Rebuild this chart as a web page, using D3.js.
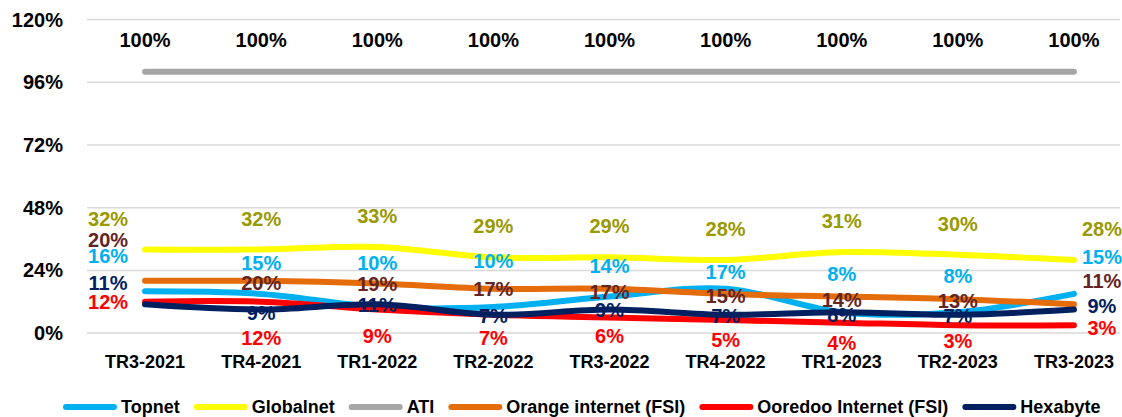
<!DOCTYPE html>
<html>
<head>
<meta charset="utf-8">
<script src="https://cdn.jsdelivr.net/npm/d3@7"></script>
<style>
  body { margin: 0; background: #fff; }
  svg text { font-family: "Liberation Sans", Arial, sans-serif; font-weight: bold; }
</style>
</head>
<body>
<svg id="chart"></svg>
<script>
const categories = ["TR3-2021", "TR4-2021", "TR1-2022", "TR2-2022", "TR3-2022", "TR4-2022", "TR1-2023", "TR2-2023", "TR3-2023"];
const yTicks = [0, 24, 48, 72, 96, 120];

const topnet = [16, 15, 10, 10, 14, 17, 8, 8, 15];
const globalnet = [32, 32, 33, 29, 29, 28, 31, 30, 28];
const ati = [100, 100, 100, 100, 100, 100, 100, 100, 100];
const orange = [20, 20, 19, 17, 17, 15, 14, 13, 11];
const ooredoo = [12, 12, 9, 7, 6, 5, 4, 3, 3];
const hexabyte = [11, 9, 11, 7, 9, 7, 8, 7, 9];

const w = 1122;
const h = 417;

// series styling + where excel left the data labels (baseline offset from the point)
const series = [
  {name: "Topnet", values: topnet, color: "#00B0F0", label: "#00B0F0", dy: [-28, -24, -37, -39, -24, -10, -31, -29, -30], ends: true},
  {name: "Globalnet", values: globalnet, color: "#FFFF00", label: "#999900", dy: [-24, -24, -24, -24, -24, -24, -24, -24, -24], ends: true},
  {name: "ATI", values: ati, color: "#A6A6A6", label: "#000000", dy: [-25, -25, -25, -25, -25, -25, -25, -25, -25], ends: false},
  {name: "Orange internet (FSI)", values: orange, color: "#E46C0A", label: "#632523", dy: [-34, 9, 8, 7, 10, 9, 10, 9, -16], ends: true},
  {name: "Ooredoo Internet (FSI)", values: ooredoo, color: "#FF0000", label: "#FF0000", dy: [7, 43, 33, 30, 26, 27, 27, 23, 10], ends: true},
  {name: "Hexabyte", values: hexabyte, color: "#002060", label: "#002060", dy: [-14, 10, 8, 8, 7, 8, 10, 8, 3], ends: true}
];

const svg = d3.select("#chart").attr("width", w).attr("height", h);

const x = d3.scaleBand().domain(categories).range([87, 1132]);
const cx = c => x(c) + x.bandwidth() / 2;
const y = d3.scaleLinear().domain([0, 120]).range([333.1, 19.6]);

//gridlines
svg.append("g").selectAll("line").data(yTicks).enter().append("line")
  .attr("x1", 87).attr("x2", 1120)
  .attr("y1", d => y(d)).attr("y2", d => y(d))
  .attr("stroke", "#D9D9D9").attr("stroke-width", 1.5);

// y axis labels
svg.append("g").selectAll("text").data(yTicks).enter().append("text")
  .attr("x", 63).attr("y", d => y(d) + 7)
  .attr("text-anchor", "end").attr("font-size", 20).attr("fill", "#000")
  .text(d => d + "%");

// x axis labels
svg.append("g").selectAll("text").data(categories).enter().append("text")
  .attr("x", d => cx(d)).attr("y", 368)
  .attr("text-anchor", "middle").attr("font-size", 18).attr("fill", "#000")
  .text(d => d);

const line = d3.line()
  .x((d, i) => cx(categories[i]))
  .y(d => y(d))
  .curve(d3.curveCatmullRom.alpha(0));

svg.append("g").selectAll("path").data(series).enter().append("path")
  .attr("d", s => line(s.values))
  .attr("fill", "none")
  .attr("stroke", s => s.color)
  .attr("stroke-width", 6)
  .attr("stroke-linecap", "round")
  .attr("stroke-linejoin", "round");

// data labels
series.forEach(s => {
  svg.append("g").selectAll("text").data(s.values).enter().append("text")
    .attr("x", (d, i) => {
      let px = cx(categories[i]);
      if (s.ends && i === 0) return px - 37;
      if (s.ends && i === categories.length - 1) return px + 28;
      return px;
    })
    .attr("y", (d, i) => y(d) + s.dy[i])
    .attr("text-anchor", "middle")
    .attr("font-size", 20)
    .attr("fill", s.label)
    .text(d => d + "%");
});

// legend
const legend = svg.append("g");
let lx = 63;
series.forEach(s => {
  legend.append("line")
    .attr("x1", lx + 3).attr("x2", lx + 51)
    .attr("y1", 407).attr("y2", 407)
    .attr("stroke", s.color).attr("stroke-width", 6).attr("stroke-linecap", "round");
  let t = legend.append("text")
    .attr("x", lx + 58).attr("y", 413)
    .attr("font-size", 18).attr("fill", "#000")
    .text(s.name);
  lx = lx + 58 + t.node().getComputedTextLength() + 14;
});
</script>
</body>
</html>
